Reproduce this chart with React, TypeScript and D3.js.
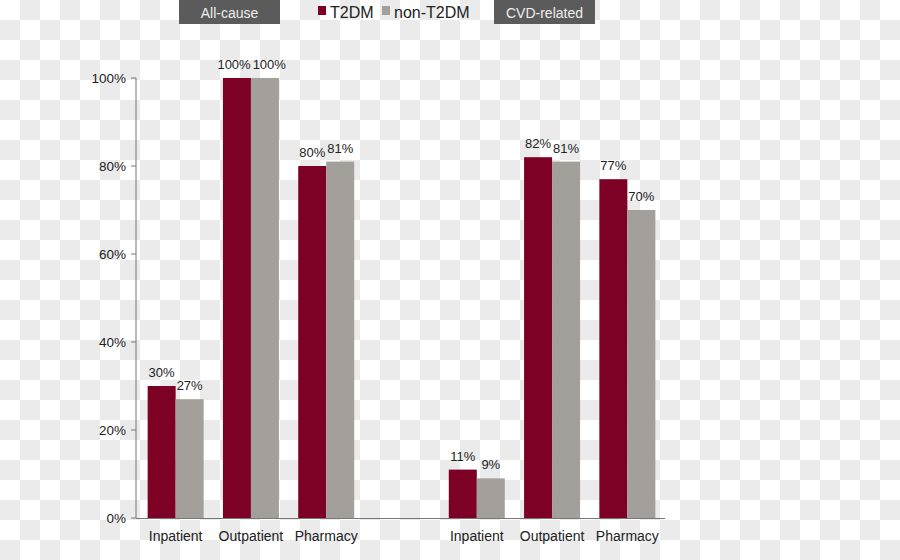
import React from "react";
import * as d3 from "d3";

const slots = ["Inpatient A", "Outpatient A", "Pharmacy A", "gap", "Inpatient B", "Outpatient B", "Pharmacy B"];
const categories = ["Inpatient", "Outpatient", "Pharmacy", "Inpatient", "Outpatient", "Pharmacy"];
const slotKeys = ["Inpatient A", "Outpatient A", "Pharmacy A", "Inpatient B", "Outpatient B", "Pharmacy B"];
const t2dm = [30, 100, 80, 11, 82, 77];
const nonT2dm = [27, 100, 81, 9, 81, 70];
const yTicks = [0, 20, 40, 60, 80, 100];
const seriesNames = ["T2DM", "non-T2DM"];
const groupTitles = ["All-cause", "CVD-related"];

const W = 900, H = 560;
const C1 = "#7d0025";
const C2 = "#a39f9b";
const FONT = "'Liberation Sans', Arial, sans-serif";
const VAL_FS = 13;

function textW(s: string, fs: number) {
  let w = 0;
  for (const ch of s) w += ch === "%" ? 0.889 : 0.556;
  return w * fs;
}

export default function App() {
  const x = d3.scaleBand<string>().domain(slots).range([138, 665]).paddingInner(0).paddingOuter(0);
  const barW = 56;
  const y = d3.scaleLinear().domain([0, 100]).range([518, 78]);
  const sub = d3.scaleBand<string>().domain(seriesNames).range([0, barW]);
  const data = slotKeys.map((k, i) => ({ k, cat: categories[i], vals: [t2dm[i], nonT2dm[i]] }));

  return (
    <svg width={W} height={H} style={{ position: "absolute", left: 0, top: 0 }} fontFamily={FONT}>
      <defs>
        <pattern id="chk" width={40} height={40} patternUnits="userSpaceOnUse">
          <rect width={40} height={40} fill="#ffffff" />
          <rect x={20} y={0} width={20} height={20} fill="#ebebeb" />
          <rect x={0} y={20} width={20} height={20} fill="#ebebeb" />
        </pattern>
      </defs>
      <rect width={W} height={H} fill="url(#chk)" />

      {/* header boxes */}
      {groupTitles.map((t, i) => {
        const bx = i === 0 ? 179 : 494;
        return (
          <g key={t}>
            <rect x={bx} y={0} width={101} height={24} fill="#5b5b5b" />
            <text x={bx + 50.5} y={18} textAnchor="middle" fontSize={14} fill="#eeeeee">{t}</text>
          </g>
        );
      })}
      {/* legend */}
      <rect x={318} y={6} width={8} height={9} fill={C1} />
      <text x={330} y={18} fontSize={16} fill="#222">{seriesNames[0]}</text>
      <rect x={382} y={6} width={8} height={9} fill={C2} />
      <text x={394} y={18} fontSize={16} fill="#222">{seriesNames[1]}</text>

      {/* bars */}
      {data.map((d) => {
        const x0 = (x(d.k) as number) + (x.bandwidth() - barW) / 2;
        const bw = sub.bandwidth();
        const centers = d.vals.map((_, j) => x0 + (sub(seriesNames[j]) as number) + bw / 2);
        const labels = d.vals.map((v) => `${v}%`);
        const widths = labels.map((l) => textW(l, VAL_FS));
        // avoid overlap when both labels are at similar height
        const gap = centers[1] - centers[0] - (widths[0] + widths[1]) / 2;
        const lx = [...centers];
        if (gap < 2 && Math.abs(y(d.vals[0]) - y(d.vals[1])) < 14) {
          const push = 2 - gap;
          lx[0] -= push * 0.4;
          lx[1] += push * 0.6;
        }
        return (
          <g key={d.k}>
            {d.vals.map((v, j) => {
              const bx = x0 + (sub(seriesNames[j]) as number);
              return (
                <g key={j}>
                  <rect x={bx} y={y(v)} width={bw} height={y(0) - y(v)} fill={j === 0 ? C1 : C2} />
                  <text x={lx[j]} y={y(v) - 9} textAnchor="middle" fontSize={VAL_FS} fill="#222">{labels[j]}</text>
                </g>
              );
            })}
            <text x={x0 + barW / 2} y={541} textAnchor="middle" fontSize={14} fill="#222">{d.cat}</text>
          </g>
        );
      })}

      {/* axes */}
      <line x1={136} x2={136} y1={78} y2={518} stroke="#777" strokeWidth={1} />
      <line x1={136} x2={665} y1={518.5} y2={518.5} stroke="#777" strokeWidth={1} />
      {yTicks.map((t) => (
        <g key={t}>
          <line x1={131} x2={136} y1={y(t)} y2={y(t)} stroke="#777" />
          <text x={126} y={y(t) + 5} textAnchor="end" fontSize={13.5} fill="#222">{t}%</text>
        </g>
      ))}
    </svg>
  );
}
